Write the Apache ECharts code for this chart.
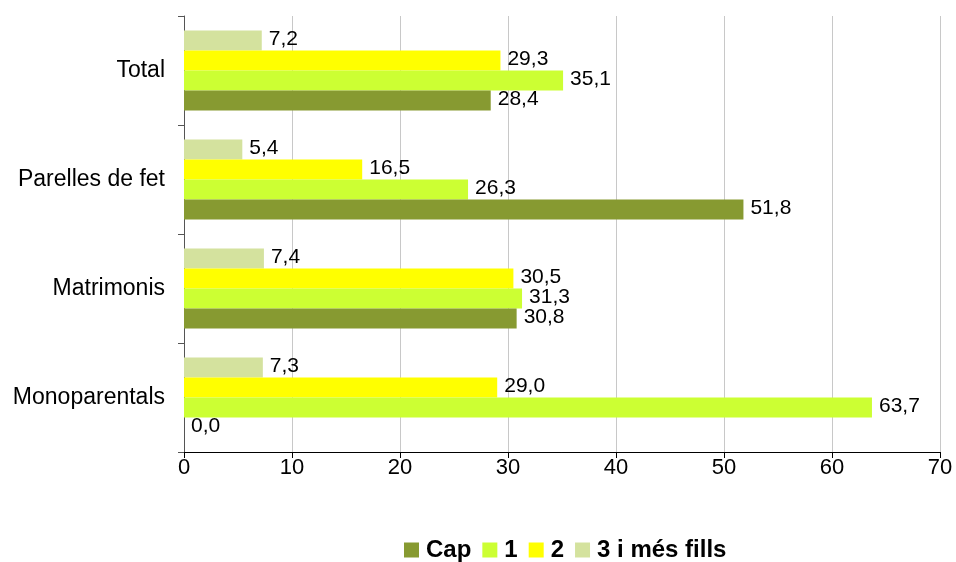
<!DOCTYPE html>
<html>
<head>
<meta charset="utf-8">
<script src="https://cdn.jsdelivr.net/npm/echarts@6/dist/echarts.min.js"></script>
<style>
  html, body { margin: 0; padding: 0; background: #fff; }
  #chart { width: 956px; height: 562px; }
</style>
</head>
<body>
<div id="chart"></div>
<script>
// categories from bottom to top
const categories = ['Monoparentals', 'Matrimonis', 'Parelles de fet', 'Total'];
const seriesNames = ['Cap', '1', '2', '3 i més fills'];
const cap = [0.0, 30.8, 51.8, 28.4];
const one = [63.7, 31.3, 26.3, 35.1];
const two = [29.0, 30.5, 16.5, 29.3];
const threePlus = [7.3, 7.4, 5.4, 7.2];
const colors = ['#879a31', '#ccff33', '#ffff00', '#d4e29e'];

const chart = echarts.init(document.getElementById('chart'));

const font = 'Liberation Sans, Arial, sans-serif';
const fmt = p => p.value.toFixed(1).replace('.', ',');

function makeSeries(name, data, i) {
  return {
    name: name,
    type: 'bar',
    data: data,
    barWidth: 20,
    barGap: '0%',
    itemStyle: { color: colors[i] },
    label: {
      show: true,
      position: 'right',
      distance: 7,
      offset: [0, -1],
      formatter: fmt,
      color: '#000',
      fontFamily: font,
      fontSize: 21
    }
  };
}

const options = {
  animation: false,
  grid: { left: 184, right: 16, top: 16, bottom: 110, containLabel: false },
  legend: {
    top: 538,
    left: 404,
    padding: 0,
    itemWidth: 15,
    itemHeight: 15,
    itemGap: 11,
    icon: 'rect',
    textStyle: {
      fontFamily: font,
      fontSize: 24,
      fontWeight: 'bold',
      color: '#000',
      padding: [0, 0, 0, 2]
    },
    data: seriesNames
  },
  xAxis: {
    type: 'value',
    min: 0,
    max: 70,
    interval: 10,
    axisLine: { show: true, lineStyle: { color: '#000', width: 1 } },
    axisTick: { show: true, length: 6, inside: false, lineStyle: { color: '#000' } },
    axisLabel: {
      margin: 5,
      color: '#000',
      fontFamily: font,
      fontSize: 22
    },
    splitLine: { show: true, lineStyle: { color: '#c8c8c8', width: 1 } }
  },
  yAxis: {
    type: 'category',
    data: categories,
    axisLine: { show: true, lineStyle: { color: '#555', width: 1 } },
    axisTick: { show: true, length: 6, alignWithLabel: false, lineStyle: { color: '#555' } },
    axisLabel: {
      margin: 19,
      color: '#000',
      fontFamily: font,
      fontSize: 23
    },
    splitLine: { show: false }
  },
  // first series is drawn at the top of each group
  series: [
    makeSeries(seriesNames[3], threePlus, 3),
    makeSeries(seriesNames[2], two, 2),
    makeSeries(seriesNames[1], one, 1),
    makeSeries(seriesNames[0], cap, 0)
  ]
};

chart.setOption(options);
</script>
</body>
</html>
